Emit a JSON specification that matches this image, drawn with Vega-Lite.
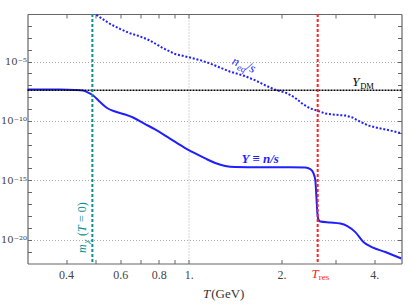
{
  "$schema": "https://vega.github.io/schema/vega-lite/v6.json",
  "width": 374,
  "height": 249.5,
  "autosize": {"type": "none"},
  "padding": {"left": 27.5, "top": 14, "right": 13.5, "bottom": 41.5},
  "background": "white",
  "config": {"view": {"stroke": null}, "text": {"font": "Liberation Serif"}},
  "datasets": {
    "ycurve": [
      {"T": 0.3, "Y": 4.37e-8}, {"T": 0.382, "Y": 4.37e-8}, {"T": 0.428, "Y": 4.07e-8}, {"T": 0.454, "Y": 3.63e-8},
      {"T": 0.4716, "Y": 2.45e-8}, {"T": 0.4877, "Y": 1.51e-8}, {"T": 0.516, "Y": 3.89e-9}, {"T": 0.5435, "Y": 1.23e-9},
      {"T": 0.577, "Y": 6.17e-10}, {"T": 0.622, "Y": 3.47e-10}, {"T": 0.66, "Y": 1.95e-10}, {"T": 0.722, "Y": 5.5e-11},
      {"T": 0.778, "Y": 1.91e-11}, {"T": 0.839, "Y": 5.89e-12}, {"T": 0.904, "Y": 1.7e-12}, {"T": 0.974, "Y": 5.25e-13},
      {"T": 1.05, "Y": 1.82e-13}, {"T": 1.131, "Y": 6.92e-14}, {"T": 1.219, "Y": 2.88e-14}, {"T": 1.313, "Y": 1.62e-14},
      {"T": 1.415, "Y": 1.32e-14}, {"T": 1.706, "Y": 1.26e-14}, {"T": 2.135, "Y": 1.26e-14}, {"T": 2.388, "Y": 1.2e-14},
      {"T": 2.48, "Y": 8.91e-15}, {"T": 2.536, "Y": 4.17e-15}, {"T": 2.574, "Y": 1.07e-15}, {"T": 2.593, "Y": 5.75e-17},
      {"T": 2.613, "Y": 2.14e-18}, {"T": 2.632, "Y": 5.5e-19}, {"T": 2.672, "Y": 3.39e-19}, {"T": 2.879, "Y": 2.82e-19},
      {"T": 3.103, "Y": 2.29e-19}, {"T": 3.269, "Y": 1.41e-19}, {"T": 3.471, "Y": 4.37e-20}, {"T": 3.686, "Y": 6.46e-21},
      {"T": 3.942, "Y": 2.24e-21}, {"T": 4.345, "Y": 9.33e-22}, {"T": 4.897, "Y": 2.63e-22}
    ],
    "neq": [
      {"T": 0.492, "Y": 1.41e-1}, {"T": 0.497, "Y": 1.0e-1}, {"T": 0.516, "Y": 5.25e-2}, {"T": 0.556, "Y": 1.45e-2},
      {"T": 0.599, "Y": 5.5e-3}, {"T": 0.645, "Y": 2.4e-3}, {"T": 0.696, "Y": 1.29e-3}, {"T": 0.749, "Y": 5.89e-4},
      {"T": 0.823, "Y": 1.38e-4}, {"T": 0.904, "Y": 4.27e-5}, {"T": 1.0, "Y": 2.29e-5}, {"T": 1.085, "Y": 1.35e-5},
      {"T": 1.17, "Y": 7.08e-6}, {"T": 1.26, "Y": 3.16e-6}, {"T": 1.358, "Y": 1.45e-6}, {"T": 1.519, "Y": 6.03e-7},
      {"T": 1.637, "Y": 2.75e-7}, {"T": 1.764, "Y": 1.05e-7}, {"T": 1.901, "Y": 4.37e-8}, {"T": 2.075, "Y": 2.24e-8},
      {"T": 2.208, "Y": 9.33e-9}, {"T": 2.344, "Y": 2.63e-9}, {"T": 2.48, "Y": 1.12e-9}, {"T": 2.632, "Y": 6.92e-10},
      {"T": 2.774, "Y": 4.17e-10}, {"T": 2.989, "Y": 3.31e-10}, {"T": 3.221, "Y": 2.82e-10}, {"T": 3.395, "Y": 1.95e-10},
      {"T": 3.604, "Y": 8.51e-11}, {"T": 3.825, "Y": 4.07e-11}, {"T": 4.123, "Y": 2.51e-11}, {"T": 4.51, "Y": 1.55e-11},
      {"T": 4.897, "Y": 9.12e-12}
    ]
  },
  "resolve": {"axis": {"x": "independent", "y": "independent"}},
  "layer": [
    {
      "data": {"name": "ycurve"},
      "mark": {"type": "line", "color": "#1f1fff", "strokeWidth": 2, "clip": true, "interpolate": "monotone"},
      "encoding": {
        "x": {"field": "T", "type": "quantitative",
          "scale": {"type": "log", "domain": [0.3, 4.9], "nice": false},
          "axis": {"orient": "bottom", "title": null, "values": [0.4, 0.5, 0.6, 0.7, 0.8, 0.9, 1, 2, 3, 4],
            "labelExpr": "datum.value == 0.4 ? '0.4' : datum.value == 0.6 ? '0.6' : datum.value == 0.8 ? '0.8' : datum.value == 1 ? '1.' : datum.value == 2 ? '2.' : datum.value == 4 ? '4.' : ''",
            "labelFont": "Liberation Serif", "labelFontSize": 12, "labelColor": "#444", "labelPadding": 10,
            "tickSize": -4, "tickColor": "#666", "domainColor": "#666", "domainWidth": 1.2,
            "grid": true, "gridColor": "#aaa", "gridDash": [1, 2], "gridWidth": 1,
            "gridOpacity": {"condition": {"test": "datum.value == 1", "value": 1}, "value": 0}}},
        "y": {"field": "Y", "type": "quantitative",
          "scale": {"type": "log", "domain": [1e-22, 0.1], "nice": false},
          "axis": {"orient": "left", "title": null,
            "values": [1e-21, 1e-20, 1e-19, 1e-18, 1e-17, 1e-16, 1e-15, 1e-14, 1e-13, 1e-12, 1e-11, 1e-10, 1e-9, 1e-8, 1e-7, 1e-6, 1e-5, 1e-4, 1e-3, 1e-2],
            "labelExpr": "round(log(datum.value)/LN10) == -5 ? '10⁻⁵' : round(log(datum.value)/LN10) == -10 ? '10⁻¹⁰' : round(log(datum.value)/LN10) == -15 ? '10⁻¹⁵' : round(log(datum.value)/LN10) == -20 ? '10⁻²⁰' : ''",
            "labelFont": "DejaVu Serif", "labelFontSize": 10, "labelColor": "#444", "labelPadding": 5,
            "tickSize": -4, "tickColor": "#666", "domainColor": "#666", "domainWidth": 1.2,
            "grid": true, "gridColor": "#aaa", "gridDash": [1, 2], "gridWidth": 1,
            "gridOpacity": {"condition": {"test": "round(log(datum.value)/LN10) % 5 == 0", "value": 1}, "value": 0}}}
      }
    },
    {
      "data": {"name": "neq"},
      "mark": {"type": "line", "color": "#1f1fff", "strokeWidth": 2, "strokeDash": [2, 1.8], "clip": true},
      "encoding": {
        "x": {"field": "T", "type": "quantitative",
          "axis": {"orient": "top", "title": null, "labels": false, "values": [0.4, 0.5, 0.6, 0.7, 0.8, 0.9, 1, 2, 3, 4],
            "tickSize": -4, "tickColor": "#666", "domainColor": "#666", "domainWidth": 1.2, "grid": false}},
        "y": {"field": "Y", "type": "quantitative",
          "axis": {"orient": "right", "title": null, "labels": false,
            "values": [1e-21, 1e-20, 1e-19, 1e-18, 1e-17, 1e-16, 1e-15, 1e-14, 1e-13, 1e-12, 1e-11, 1e-10, 1e-9, 1e-8, 1e-7, 1e-6, 1e-5, 1e-4, 1e-3, 1e-2],
            "tickSize": -4, "tickColor": "#666", "domainColor": "#666", "domainWidth": 1.2, "grid": false}}
      }
    },
    {
      "data": {"values": [{"Y": 3.9e-8}]},
      "mark": {"type": "rule", "color": "black", "strokeWidth": 1.5, "strokeDash": [2, 1]},
      "encoding": {"y": {"field": "Y", "type": "quantitative", "axis": null}}
    },
    {
      "data": {"values": [{"T": 0.487}]},
      "mark": {"type": "rule", "color": "#0e8f8f", "strokeWidth": 2, "strokeDash": [3, 2]},
      "encoding": {"x": {"field": "T", "type": "quantitative", "axis": null}}
    },
    {
      "data": {"values": [{"T": 2.62}]},
      "mark": {"type": "rule", "color": "#ff2020", "strokeWidth": 2, "strokeDash": [3, 2]},
      "encoding": {"x": {"field": "T", "type": "quantitative", "axis": null}}
    },
    {
      "data": {"values": [{"T": 1.706, "Y": 2.7e-14, "label": "Y ≡ n/s"}]},
      "mark": {"type": "text", "color": "#1f1fff", "fontSize": 13, "fontStyle": "italic", "fontWeight": "bold", "align": "center", "baseline": "alphabetic"},
      "encoding": {"x": {"field": "T", "type": "quantitative", "axis": null}, "y": {"field": "Y", "type": "quantitative", "axis": null}, "text": {"field": "label"}}
    },
    {
      "data": {"values": [{"T": 1.373, "Y": 6.2e-6, "label": "n"}]},
      "mark": {"type": "text", "color": "#1f1fff", "fontSize": 13, "fontStyle": "italic", "align": "left", "baseline": "alphabetic", "angle": 22},
      "encoding": {"x": {"field": "T", "type": "quantitative", "axis": null}, "y": {"field": "Y", "type": "quantitative", "axis": null}, "text": {"field": "label"}}
    },
    {
      "data": {"values": [{"T": 1.373, "Y": 6.2e-6, "label": "eq"}]},
      "mark": {"type": "text", "color": "#1f1fff", "fontSize": 9, "fontStyle": "italic", "align": "left", "baseline": "alphabetic", "angle": 22, "dx": 7, "dy": 3},
      "encoding": {"x": {"field": "T", "type": "quantitative", "axis": null}, "y": {"field": "Y", "type": "quantitative", "axis": null}, "text": {"field": "label"}}
    },
    {
      "data": {"values": [{"T": 1.373, "Y": 6.2e-6, "label": "/s"}]},
      "mark": {"type": "text", "color": "#1f1fff", "fontSize": 13, "fontStyle": "italic", "align": "left", "baseline": "alphabetic", "angle": 22, "dx": 15.5},
      "encoding": {"x": {"field": "T", "type": "quantitative", "axis": null}, "y": {"field": "Y", "type": "quantitative", "axis": null}, "text": {"field": "label"}}
    },
    {
      "data": {"values": [{"T": 3.39, "Y": 8.7e-8, "label": "Y"}]},
      "mark": {"type": "text", "color": "black", "fontSize": 13, "fontStyle": "italic", "align": "left", "baseline": "alphabetic"},
      "encoding": {"x": {"field": "T", "type": "quantitative", "axis": null}, "y": {"field": "Y", "type": "quantitative", "axis": null}, "text": {"field": "label"}}
    },
    {
      "data": {"values": [{"T": 3.39, "Y": 8.7e-8, "label": "DM"}]},
      "mark": {"type": "text", "color": "black", "fontSize": 8.5, "align": "left", "baseline": "alphabetic", "dx": 8, "dy": 2.5},
      "encoding": {"x": {"field": "T", "type": "quantitative", "axis": null}, "y": {"field": "Y", "type": "quantitative", "axis": null}, "text": {"field": "label"}}
    },
    {
      "data": {"values": [{"T": 0.466, "Y": 7.6e-22, "label": "m"}]},
      "mark": {"type": "text", "color": "#0e8f8f", "fontSize": 12, "fontStyle": "italic", "align": "left", "baseline": "alphabetic", "angle": 270},
      "encoding": {"x": {"field": "T", "type": "quantitative", "axis": null}, "y": {"field": "Y", "type": "quantitative", "axis": null}, "text": {"field": "label"}}
    },
    {
      "data": {"values": [{"T": 0.466, "Y": 7.6e-22, "label": "χ"}]},
      "mark": {"type": "text", "color": "#0e8f8f", "fontSize": 9, "fontStyle": "italic", "align": "left", "baseline": "alphabetic", "angle": 270, "dx": 9.5, "dy": 3},
      "encoding": {"x": {"field": "T", "type": "quantitative", "axis": null}, "y": {"field": "Y", "type": "quantitative", "axis": null}, "text": {"field": "label"}}
    },
    {
      "data": {"values": [{"T": 0.466, "Y": 7.6e-22, "label": "("}]},
      "mark": {"type": "text", "color": "#0e8f8f", "fontSize": 12, "align": "left", "baseline": "alphabetic", "angle": 270, "dx": 17},
      "encoding": {"x": {"field": "T", "type": "quantitative", "axis": null}, "y": {"field": "Y", "type": "quantitative", "axis": null}, "text": {"field": "label"}}
    },
    {
      "data": {"values": [{"T": 0.466, "Y": 7.6e-22, "label": "T"}]},
      "mark": {"type": "text", "color": "#0e8f8f", "fontSize": 12, "fontStyle": "italic", "align": "left", "baseline": "alphabetic", "angle": 270, "dx": 21},
      "encoding": {"x": {"field": "T", "type": "quantitative", "axis": null}, "y": {"field": "Y", "type": "quantitative", "axis": null}, "text": {"field": "label"}}
    },
    {
      "data": {"values": [{"T": 0.466, "Y": 7.6e-22, "label": "= 0)"}]},
      "mark": {"type": "text", "color": "#0e8f8f", "fontSize": 12, "align": "left", "baseline": "alphabetic", "angle": 270, "dx": 31},
      "encoding": {"x": {"field": "T", "type": "quantitative", "axis": null}, "y": {"field": "Y", "type": "quantitative", "axis": null}, "text": {"field": "label"}}
    },
    {
      "data": {"values": [{"T": 2.62, "Y": 1e-22, "label": "T"}]},
      "mark": {"type": "text", "color": "#ff2020", "fontSize": 13, "fontStyle": "italic", "align": "right", "baseline": "alphabetic", "dx": 1, "dy": 14},
      "encoding": {"x": {"field": "T", "type": "quantitative", "axis": null}, "y": {"field": "Y", "type": "quantitative", "axis": null}, "text": {"field": "label"}}
    },
    {
      "data": {"values": [{"T": 2.62, "Y": 1e-22, "label": "res"}]},
      "mark": {"type": "text", "color": "#ff2020", "fontSize": 9, "align": "left", "baseline": "alphabetic", "dx": 1, "dy": 16},
      "encoding": {"x": {"field": "T", "type": "quantitative", "axis": null}, "y": {"field": "Y", "type": "quantitative", "axis": null}, "text": {"field": "label"}}
    },
    {
      "data": {"values": [{"T": 1.174, "Y": 1e-22, "label": "T"}]},
      "mark": {"type": "text", "color": "#333", "fontSize": 13, "fontStyle": "italic", "align": "right", "baseline": "alphabetic", "dy": 34.5},
      "encoding": {"x": {"field": "T", "type": "quantitative", "axis": null}, "y": {"field": "Y", "type": "quantitative", "axis": null}, "text": {"field": "label"}}
    },
    {
      "data": {"values": [{"T": 1.174, "Y": 1e-22, "label": "(GeV)"}]},
      "mark": {"type": "text", "color": "#333", "fontSize": 13, "align": "left", "baseline": "alphabetic", "dx": 1, "dy": 34.5},
      "encoding": {"x": {"field": "T", "type": "quantitative", "axis": null}, "y": {"field": "Y", "type": "quantitative", "axis": null}, "text": {"field": "label"}}
    }
  ]
}
